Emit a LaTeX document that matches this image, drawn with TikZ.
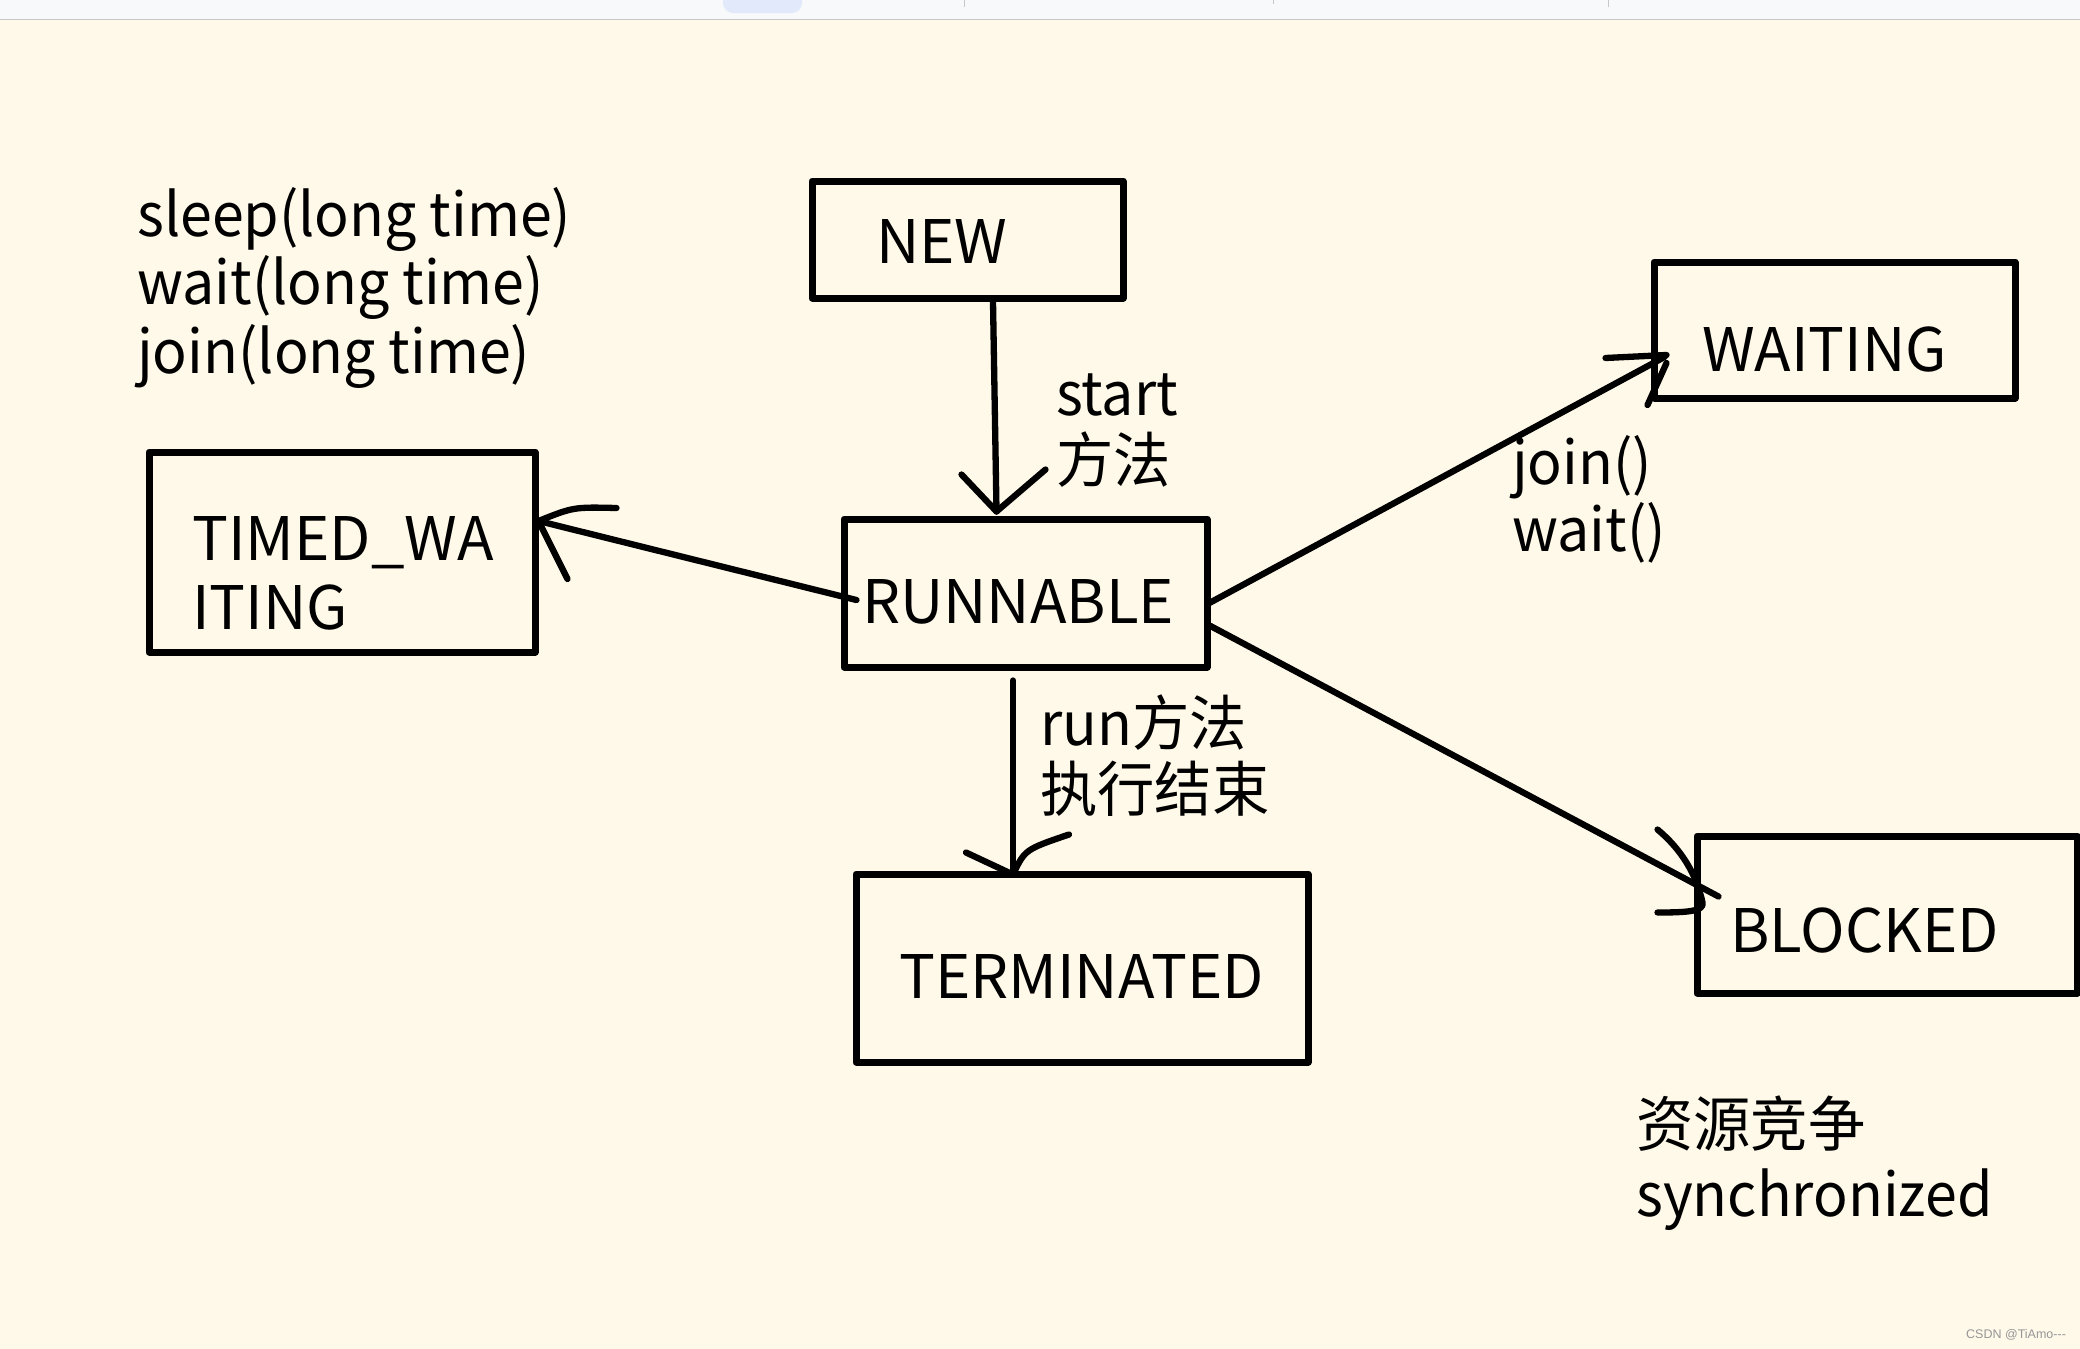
\documentclass[tikz,border=0pt]{standalone}
\usepackage{fontspec}
\setmainfont{Noto Sans CJK SC}
\newfontfamily\narrowfont[FakeStretch=0.955]{Noto Sans CJK SC}
\newfontfamily\wmfont{Liberation Sans}
\usetikzlibrary{calc}
\definecolor{bgcream}{RGB}{255,249,234}
\definecolor{barbg}{RGB}{248,249,251}
\definecolor{barline}{RGB}{200,200,200}
\definecolor{pillblue}{RGB}{226,233,251}
\definecolor{wmgray}{RGB}{150,150,150}
\begin{document}
\begin{tikzpicture}[x=1pt,y=-1pt,
  statebox/.style={draw=black, line width=7pt, rectangle, inner sep=0pt, line join=round},
  lbl/.style={anchor=base west, inner sep=0pt, font=\fontsize{60}{69}\selectfont},
  lbln/.style={anchor=base west, inner sep=0pt, font=\narrowfont\fontsize{60}{69}\selectfont},
  conn/.style={draw=black, line width=6.3pt, line cap=round, line join=round},
]
\useasboundingbox (0,0) rectangle (2080,1349);
\fill[bgcream] (0,0) rectangle (2080,1349);
% screenshot top strip
\fill[barbg] (0,0) rectangle (2080,19);
\fill[pillblue, rounded corners=10pt] (723,-15) rectangle (802,13);
\draw[barline, line width=1.5pt] (0,19.5) -- (2080,19.5);
\draw[barline, line width=1pt] (964,0) -- (964,7) (1273,0) -- (1273,4) (1608,0) -- (1608,7);

% state boxes
\node[statebox, minimum width=311pt, minimum height=117pt] (new) at (967.5,239.5) {};
\node[statebox, minimum width=363pt, minimum height=148pt] (runnable) at (1025.5,593) {};
\node[statebox, minimum width=386pt, minimum height=200pt] (timed) at (342,552) {};
\node[statebox, minimum width=361pt, minimum height=136pt] (waiting) at (1834.5,330) {};
\node[statebox, minimum width=452pt, minimum height=188pt] (terminated) at (1082,968) {};
\node[statebox, minimum width=380pt, minimum height=157pt] (blocked) at (1887,914.5) {};

% box texts
\node[lbl] (newtxt) at (876,263) {NEW};
\node[lbl] (runtxt) at (862,623) {RUNNABLE};
\node[lbl] (timedtxt1) at (192,560) {TIMED\_WA};
\node[lbl] (timedtxt2) at (192,629) {ITING};
\node[lbl] (waittxt) at (1702,371) {WAITING};
\node[lbl] (termtxt) at (899,998) {TERMINATED};
\node[lbl] (blocktxt) at (1730,952) {BLOCKED};

% free labels
\node[lbln] (sl1) at (137,236) {sleep(long time)};
\node[lbln] (sl2) at (137,304) {wait(long time)};
\node[lbln] (sl3) at (137,373) {join(long time)};
\node[lbln] (st1) at (1056,415) {start};
\node[lbln] (st2) at (1056,482) {方法};
\node[lbln] (jw1) at (1512,484) {join()};
\node[lbln] (jw2) at (1512,551) {wait()};
\node[lbln] (rn1) at (1040,745) {run方法};
\node[lbln] (rn2) at (1040,811) {执行结束};
\node[lbln] (sy1) at (1636,1146) {资源竞争};
\node[lbln] (sy2) at (1636,1216) {synchronized};
\node[anchor=base west, inner sep=0pt, text=wmgray, font=\wmfont\fontsize{12.5}{15}\selectfont] (wm) at (1966,1338) {CSDN @TiAmo---};

% NEW -> RUNNABLE
\coordinate (t1) at ($(runnable.north)+(-29,-4)$);
\draw[conn] ($(new.south)+(25.5,0)$) -- (t1);
\draw[conn] ($(t1)+(-35,-37)$) -- (t1) -- ($(t1)+(49,-42)$);

% RUNNABLE -> TIMED_WAITING
\coordinate (t2) at ($(timed.east)+(0,-31)$);
\draw[conn] ($(runnable.west)+(16,7)$) -- (t2);
\draw[conn] ($(t2)+(78,-13)$) .. controls ($(t2)+(35,-14)$) .. (t2) -- ($(t2)+(29,58)$);

% RUNNABLE -> WAITING
\coordinate (t3) at ($(waiting.west)+(14,27)$);
\draw[conn] ($(runnable.east)+(-3,11)$) -- (t3);
\draw[conn] ($(t3)+(-59,1)$) -- ($(t3)+(2,-2)$);
\draw[conn] ($(t3)+(2,6)$) -- ($(t3)+(-17,48)$);

% RUNNABLE -> BLOCKED
\coordinate (t4) at ($(blocked.west)+(3,-30)$);
\draw[conn] ($(runnable.east)+(0,33)$) -- ($(t4)+(22,12)$);
\draw[conn] ($(t4)+(-39,-55)$) .. controls ($(t4)+(-15,-35)$) and ($(t4)+(0,-10)$) .. ($(t4)+(6,18)$) .. controls ($(t4)+(8,27)$) and ($(t4)+(-10,28)$) .. ($(t4)+(-39,28)$);

% RUNNABLE -> TERMINATED
\coordinate (t5) at ($(terminated.north)+(-69,4)$);
\draw[conn] ($(runnable.south)+(-12.5,10)$) -- (t5);
\draw[conn] ($(t5)+(-47,-22)$) -- (t5);
\draw[conn] (t5) .. controls ($(t5)+(12,-25)$) .. ($(t5)+(56,-40)$);
\end{tikzpicture}
\end{document}
